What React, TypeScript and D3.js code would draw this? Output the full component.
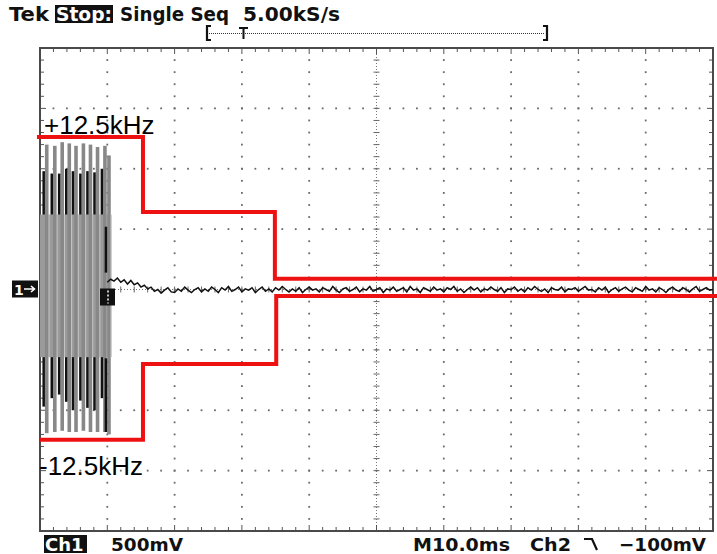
import React from "react";
import * as d3 from "d3";

// ---- scope settings / labels ----
const headerParts = ["Tek", "Stop:", "Single Seq", "5.00kS/s"];
const footerCh1 = ["Ch1", "500mV"];
const footerRight = ["M10.0ms", "Ch2", "\u2212100mV"];
const maskLabels = ["+12.5kHz", "-12.5kHz"];

// time axis: 10 div x 10 ms ; volts: 8 div x 0.5 V
const timeDomain = [0, 100];
const voltDomain = [-2, 2];
const hDivs = 10;
const vDivs = 8;
const minorPerDiv = 5;

// ---- red frequency mask (step lines) ----
const upperMaskT = [-0.45, 15.3, 34.9, 100.6];
const upperMaskV = [1.263, 0.642, 0.088, 0.088];
const lowerMaskT = [0.0, 15.3, 35.1, 100.6];
const lowerMaskV = [-1.245, -0.616, -0.053, -0.053];

// ---- burst (aliased carrier) ----
const spikeT = [1.0, 2.2, 3.3, 4.35, 5.35, 6.45, 7.5, 8.55, 9.65, 10.25];
const grayTopV = [1.2, 1.19, 1.22, 1.21, 1.19, 1.21, 1.2, 1.18, 1.19, 1.11];
const grayBotV = [-1.19, -1.18, -1.17, -1.18, -1.18, -1.17, -1.18, -1.18, -1.18, -1.2];
const blackHiTopV = [0.98, 0.96, 0.96, 1.0, 0.98, 0.96, 0.98, 0.97, 1.0, 0.52];
const blackHiBotV = [0.62, 0.62, 0.62, 0.62, 0.62, 0.62, 0.62, 0.62, 0.62, 0.14];
const blackLoTopV = [-0.56, -0.56, -0.56, -0.56, -0.56, -0.56, -0.56, -0.56, -0.56, -0.57];
const blackLoBotV = [-0.97, -0.9, -0.87, -0.93, -1.0, -0.92, -0.98, -1.0, -0.9, -1.18];
const bandT = [0, 10.4];
const bandV = [0.62, -0.56];

// ---- residual trace after burst (mV), starting at 10 ms, every 0.5 ms ----
const traceStartT = 10;
const traceStepT = 0.5;
const traceMv = [
  60, 85, 70, 95, 60, 80, 45, 75, 40, 55,
  20, 35, 5, 20, -15, 0, -30, -5, 15, -20,
  -25, 5, -15, 20, -5, -25, 0, 15, -20, 5,
  -15, 20, 0, -25, 15, -5, 25, -15, 0, 20,
  -20, 5, -5, 15, -25, 0, 20, -15, 5, -20,
  15, -5, 25, 0, -20, 5, -15, 15, -25, 0,
  20, -5, 5, -20, 15, 0, -15, 25, -5, -25,
  5, 15, -15, 0, 20, -20, 5, -5, 25, -15,
  0, 15, -25, 5, -5, 20, -15, 0, 15, -20,
  25, -5, 5, -25, 15, 0, -15, 20, -5, 5,
  -20, 15, 0, 25, -15, 5, -25, 0, 20, -5,
  15, -20, 5, -5, 20, 0, -15, 15, -25, 5,
  0, 20, -15, 5, -20, 15, -5, 25, 0, -15,
  5, -25, 15, 0, -5, 20, -20, 5, 0, 15,
  -15, 5, 25, -5, 0, -20, 15, -5, 20, -25,
  0, 15, -15, 5, 20, -5, -20, 15, 0, -15,
  25, -5, 5, -20, 15, 0, -25, 5, 20, -5,
  -15, 15, 0, -20, 5, 25, -15, 0, 15, -5,
  0,
];

const W = 717;
const H = 554;
const X0 = 40, X1 = 713, Y0 = 48, Y1 = 531;

export default function App() {
  const x = d3.scaleLinear().domain(timeDomain).range([X0, X1]);
  const y = d3.scaleLinear().domain(voltDomain).range([Y1, Y0]);

  const majorX = d3.range(hDivs + 1).map((i) => timeDomain[0] + (i * (timeDomain[1] - timeDomain[0])) / hDivs);
  const majorY = d3.range(vDivs + 1).map((i) => voltDomain[0] + (i * (voltDomain[1] - voltDomain[0])) / vDivs);
  const minorX = d3.range(hDivs * minorPerDiv + 1).map((i) => timeDomain[0] + (i * (timeDomain[1] - timeDomain[0])) / (hDivs * minorPerDiv));
  const minorY = d3.range(vDivs * minorPerDiv + 1).map((i) => voltDomain[0] + (i * (voltDomain[1] - voltDomain[0])) / (vDivs * minorPerDiv));
  const centerT = (timeDomain[0] + timeDomain[1]) / 2;
  const centerV = (voltDomain[0] + voltDomain[1]) / 2;

  const dots: JSX.Element[] = [];
  majorX.slice(1, -1).forEach((t, i) => {
    if (Math.abs(t - centerT) < 1e-9) return;
    minorY.slice(1, -1).forEach((v, j) => {
      dots.push(<rect key={`dv${i}-${j}`} x={x(t) - 0.9} y={y(v) - 0.9} width={1.8} height={1.8} fill="#6a6a6a" />);
    });
  });
  majorY.slice(1, -1).forEach((v, i) => {
    if (Math.abs(v - centerV) < 1e-9) return;
    minorX.slice(1, -1).forEach((t, j) => {
      dots.push(<rect key={`dh${i}-${j}`} x={x(t) - 0.9} y={y(v) - 0.9} width={1.8} height={1.8} fill="#6a6a6a" />);
    });
  });

  const ticks: JSX.Element[] = [];
  minorX.slice(1, -1).forEach((t, i) => {
    const isMaj = i % minorPerDiv === minorPerDiv - 1;
    const L = isMaj ? 6 : 4;
    ticks.push(<line key={`tt${i}`} x1={x(t)} x2={x(t)} y1={Y0} y2={Y0 + L} stroke="#555" strokeWidth={1} />);
    ticks.push(<line key={`tb${i}`} x1={x(t)} x2={x(t)} y1={Y1} y2={Y1 - L} stroke="#555" strokeWidth={1} />);
    ticks.push(<line key={`tc${i}`} x1={x(t)} x2={x(t)} y1={y(centerV) - 3} y2={y(centerV) + 3} stroke="#666" strokeWidth={1} />);
  });
  minorY.slice(1, -1).forEach((v, i) => {
    const isMaj = i % minorPerDiv === minorPerDiv - 1;
    const L = isMaj ? 6 : 4;
    ticks.push(<line key={`tl${i}`} x1={X0} x2={X0 + L} y1={y(v)} y2={y(v)} stroke="#555" strokeWidth={1} />);
    ticks.push(<line key={`tr${i}`} x1={X1} x2={X1 - L} y1={y(v)} y2={y(v)} stroke="#555" strokeWidth={1} />);
    ticks.push(<line key={`tcv${i}`} x1={x(centerT) - 3} x2={x(centerT) + 3} y1={y(v)} y2={y(v)} stroke="#666" strokeWidth={1} />);
  });

  const stepLine = d3
    .line<[number, number]>()
    .x((d) => x(d[0]))
    .y((d) => y(d[1]))
    .curve(d3.curveStepAfter);
  const upperPath = stepLine(upperMaskT.map((t, i) => [t, upperMaskV[i]]));
  const lowerPath = stepLine(lowerMaskT.map((t, i) => [t, lowerMaskV[i]]));

  const traceLine = d3
    .line<number>()
    .x((_, i) => x(traceStartT + i * traceStepT))
    .y((d) => y(d / 1000));
  const tracePath = traceLine(traceMv);

  const font = "'DejaVu Sans', sans-serif";

  return (
    <svg width={W} height={H} style={{ position: "absolute", left: 0, top: 0, background: "#fff" }}>
      <rect x={0} y={0} width={W} height={H} fill="#fff" />
      {/* header */}
      <g fontFamily={font} fontWeight="bold" fontSize={19} fill="#111">
        <text x={9} y={21} textLength={40} lengthAdjust="spacingAndGlyphs">{headerParts[0]}</text>
        <rect x={55} y={5} width={58} height={18} fill="#111" />
        <text x={56} y={21} fill="#fff" textLength={56} lengthAdjust="spacingAndGlyphs">{headerParts[1]}</text>
        <text x={120} y={21} textLength={109} lengthAdjust="spacingAndGlyphs">{headerParts[2]}</text>
        <text x={243} y={21} textLength={97} lengthAdjust="spacingAndGlyphs">{headerParts[3]}</text>
      </g>
      {/* record bracket */}
      <g>
        <line x1={209} x2={545} y1={33.5} y2={33.5} stroke="#333" strokeWidth={1} strokeDasharray="1,1" />
        <path d="M211,26 H207 V40 H211" fill="none" stroke="#111" strokeWidth={2.2} />
        <path d="M543,26 H547 V40 H543" fill="none" stroke="#111" strokeWidth={2.2} />
        <path d="M239,28 H248 M243.5,28 V39" fill="none" stroke="#111" strokeWidth={2} />
      </g>
      {/* graticule */}
      {dots}
      <line x1={x(centerT)} x2={x(centerT)} y1={Y0} y2={Y1} stroke="#777" strokeWidth={1} strokeDasharray="1,2" />
      <line x1={X0} x2={X1} y1={y(centerV)} y2={y(centerV)} stroke="#777" strokeWidth={1} strokeDasharray="1,2" />
      {ticks}
      <rect x={X0} y={Y0} width={X1 - X0} height={Y1 - Y0} fill="none" stroke="#4a4a4a" strokeWidth={2} />

      {/* burst */}
      <rect x={x(bandT[0])} y={y(bandV[0])} width={x(bandT[1]) - x(bandT[0])} height={y(bandV[1]) - y(bandV[0])} fill="#9a9a9a" />
      {spikeT.map((t, i) => (
        <g key={`sp${i}`}>
          <rect x={x(t) - 1.8} y={y(grayTopV[i])} width={3.6} height={y(grayBotV[i]) - y(grayTopV[i])} fill="#888" />
          <rect x={x(t) + 1.8} y={y(bandV[0])} width={1} height={y(bandV[1]) - y(bandV[0])} fill="#c4c4c4" />
          <rect x={x(t) - 4.3} y={y(blackHiTopV[i])} width={2.5} height={y(blackHiBotV[i]) - y(blackHiTopV[i])} fill="#111" />
          <rect x={x(t) - 4.3} y={y(blackLoTopV[i])} width={2.5} height={y(blackLoBotV[i]) - y(blackLoTopV[i])} fill="#111" />
        </g>
      ))}

      {/* residual trace */}
      <path d={tracePath || ""} fill="none" stroke="#111" strokeWidth={1.5} />

      {/* markers */}
      <rect x={12} y={y(0) - 9} width={26} height={17} fill="#111" />
      <text x={14} y={y(0) + 5.5} fontFamily={font} fontWeight="bold" fontSize={14} fill="#fff">1</text>
      <path d={`M24,${y(0) - 0.5} H34 M31,${y(0) - 3.5} L34.5,${y(0) - 0.5} L31,${y(0) + 2.5}`} fill="none" stroke="#fff" strokeWidth={1.6} />
      <rect x={100} y={y(0) - 1} width={15} height={17} fill="#111" />
      <line x1={108} x2={108} y1={y(0) + 1} y2={y(0) + 14} stroke="#fff" strokeWidth={1.5} strokeDasharray="2,2" />

      {/* red mask */}
      <path d={upperPath || ""} fill="none" stroke="#ee1111" strokeWidth={4} />
      <path d={lowerPath || ""} fill="none" stroke="#ee1111" strokeWidth={4} />
      <g fontFamily="'Liberation Sans', Arial, sans-serif" fontSize={26} fill="#000">
        <text x={44} y={134}>{maskLabels[0]}</text>
        <text x={39} y={475}>{maskLabels[1]}</text>
      </g>

      {/* footer */}
      <g fontFamily={font} fontWeight="bold" fontSize={18} fill="#111">
        <rect x={44} y={535} width={43} height={18} fill="#111" />
        <text x={45} y={551} fill="#fff">{footerCh1[0]}</text>
        <text x={111} y={551} textLength={72} lengthAdjust="spacingAndGlyphs">{footerCh1[1]}</text>
        <text x={413} y={551} textLength={97} lengthAdjust="spacingAndGlyphs">{footerRight[0]}</text>
        <text x={530} y={551} textLength={41} lengthAdjust="spacingAndGlyphs">{footerRight[1]}</text>
        <path d="M584,539 H592 L597,550" fill="none" stroke="#111" strokeWidth={2.2} />
        <text x={619} y={551} textLength={87} lengthAdjust="spacingAndGlyphs">{footerRight[2]}</text>
      </g>
    </svg>
  );
}
